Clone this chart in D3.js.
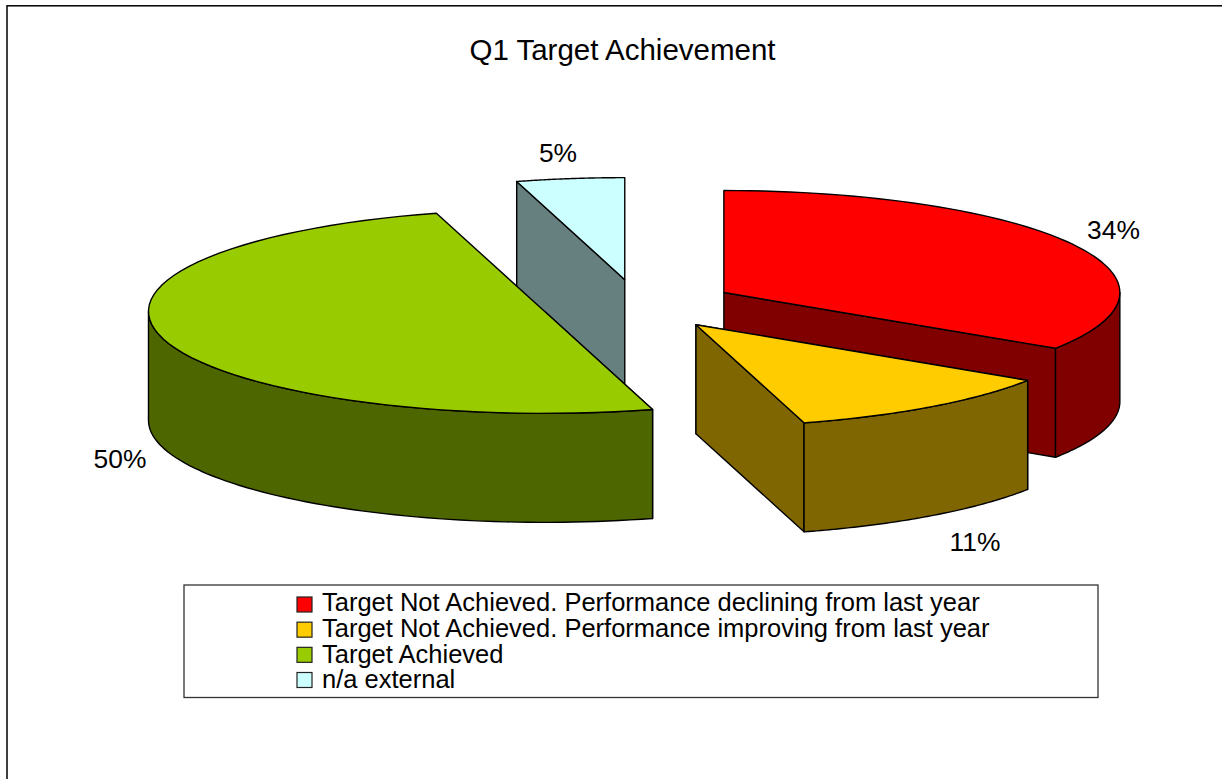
<!DOCTYPE html>
<html><head><meta charset="utf-8">
<style>html,body{margin:0;padding:0;background:#fff}svg{display:block}text{font-family:"Liberation Sans",Arial,sans-serif;fill:#000}</style>
<script src="https://cdn.jsdelivr.net/npm/d3@7"></script></head>
<body><svg id="c" width="1222" height="779"></svg>
<script>
const title = "Q1 Target Achievement";
const categories = ["Target Not Achieved. Performance declining from last year","Target Not Achieved. Performance improving from last year","Target Achieved","n/a external"];
const values = [34.2, 11.4, 50, 4.4];
const labels = ["34%","11%","50%","5%"];
const topColors = ["#FF0000","#FFCC00","#99CC00","#CCFFFF"];
const wallColors = ["#800000","#806600","#4D6600","#668080"];

const W=1222,H=779, cx=638.2, cy=304.5, rx=396, ry=102, depth=109, explode=0.246;
const svg=d3.select("#c");
// chart frame runs off the right and bottom of the page
svg.append("rect").attr("x",7).attr("y",5.8).attr("width",1300).attr("height",900).attr("fill","#fff").attr("stroke","#000").attr("stroke-width",1.5);

const arcs=d3.pie().sort(null)(values);
const pt=(c,a,k=1)=>[c[0]+k*rx*Math.sin(a), c[1]-k*ry*Math.cos(a)];
const rimPts=(c,a0,a1)=>d3.range(0,65).map(i=>pt(c,a0+(a1-a0)*i/64));
const line=d3.line();
const slices=arcs.map((d,i)=>({i,a0:d.startAngle,a1:d.endAngle,c:pt([cx,cy],(d.startAngle+d.endAngle)/2,explode)}));
function poly(g,pts,fill){
  g.append("path").attr("d",line(pts)+"Z").attr("fill",fill)
   .attr("stroke","#000").attr("stroke-width",1.4).attr("stroke-linejoin","round");
}
function drawSlice(s){
  const g=svg.append("g");
  const {c,a0,a1,i}=s;
  const bottom=p=>[p[0],p[1]+depth];
  // radial faces that turn toward the viewer
  const e0=pt(c,a0), e1=pt(c,a1);
  if(a0>Math.PI/2 && a0<2*Math.PI) poly(g,[c,e0,bottom(e0),bottom(c)],wallColors[i]);
  if(a1<Math.PI) poly(g,[c,e1,bottom(e1),bottom(c)],wallColors[i]);
  // outer wall, front half of the rim only
  const lo=Math.max(a0,Math.PI/2), hi=Math.min(a1,Math.PI*1.5);
  if(hi>lo){
    const r=rimPts(c,lo,hi);
    poly(g,r.concat(r.map(bottom).reverse()),wallColors[i]);
  }
  poly(g,[c].concat(rimPts(c,a0,a1)),topColors[i]);
}
[3,0,2,1].forEach(i=>drawSlice(slices[i]));

svg.append("text").attr("x",622.5).attr("y",60).attr("text-anchor","middle").attr("font-size",29.5).text(title);
const labelPos=[[1113.5,239],[975,551],[120,468],[558,162]];
labels.forEach((t,i)=>svg.append("text").attr("x",labelPos[i][0]).attr("y",labelPos[i][1]).attr("text-anchor","middle").attr("font-size",26.4).text(t));

const lg=svg.append("g");
lg.append("rect").attr("x",184).attr("y",585).attr("width",914).attr("height",112.5).attr("fill","#fff").attr("stroke","#333").attr("stroke-width",1.3);
const rowY=d3.scalePoint().domain(d3.range(4)).range([604,679.5]);
const textY=d3.scalePoint().domain(d3.range(4)).range([611,688.4]);
categories.forEach((t,i)=>{
  lg.append("rect").attr("x",297).attr("y",rowY(i)-7).attr("width",15).attr("height",15).attr("fill",topColors[i]).attr("stroke","#222").attr("stroke-width",1.2);
  lg.append("text").attr("x",322).attr("y",textY(i)).attr("font-size",25.5).text(t);
});
</script></body></html>
